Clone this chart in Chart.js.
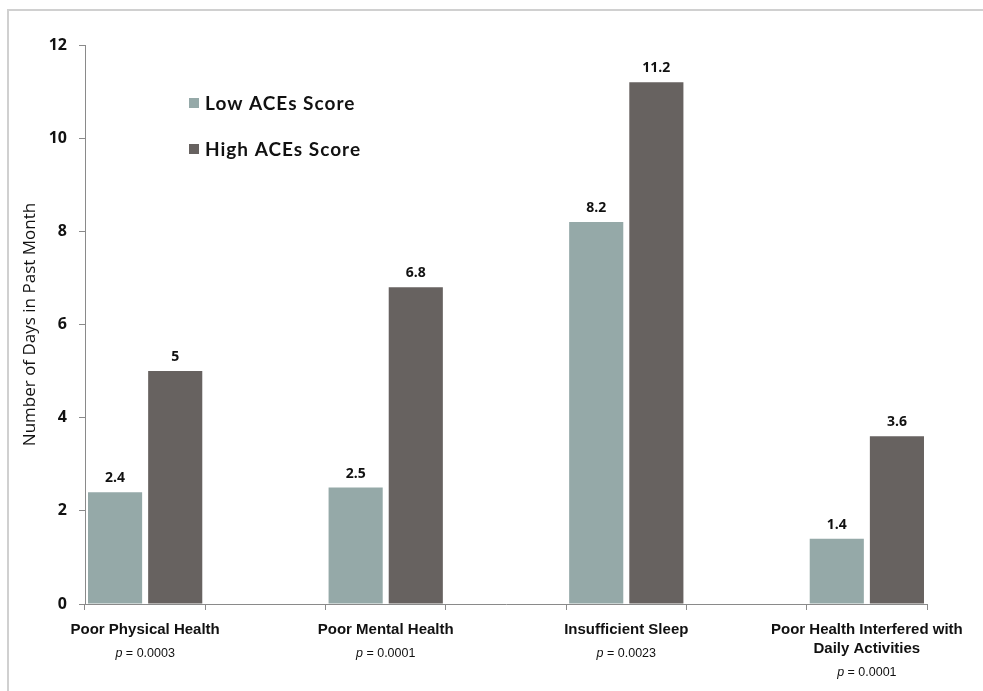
<!DOCTYPE html>
<html>
<head>
<meta charset="utf-8">
<script src="https://cdn.jsdelivr.net/npm/chart.js@4.4.1/dist/chart.umd.min.js"></script>
<style>
  html, body { margin: 0; padding: 0; background: #fff; overflow: hidden; }
  #wrap { position: relative; width: 983px; height: 691px; }
</style>
</head>
<body>
<div id="wrap"><canvas id="acesChart" width="983" height="691"></canvas></div>
<script>
const categories = [
  'Poor Physical Health',
  'Poor Mental Health',
  'Insufficient Sleep',
  ['Poor Health Interfered with', 'Daily Activities']
];
const pValues = ['0.0003', '0.0001', '0.0023', '0.0001'];
const lowAces = [2.4, 2.5, 8.2, 1.4];
const highAces = [5, 6.8, 11.2, 3.6];
const yMin = 0;
const yMax = 12;
const yStep = 2;

const lowColor = '#95a9a8';
const highColor = '#676260';
const axisColor = '#8a8a8a';

// empty spacer categories between the groups, like the original sheet
const labels = [];
const lowData = [];
const highData = [];
categories.forEach((c, i) => {
  if (i > 0) { labels.push(''); lowData.push(null); highData.push(null); }
  labels.push(c); lowData.push(lowAces[i]); highData.push(highAces[i]);
});

const LABEL_LINE = 19;

const frame = {
  id: 'frame',
  beforeDraw(chart) {
    const ctx = chart.ctx;
    ctx.save();
    ctx.strokeStyle = '#d0d0d0';
    ctx.lineWidth = 2;
    ctx.beginPath();
    ctx.moveTo(8, chart.height);
    ctx.lineTo(8, 10);
    ctx.lineTo(chart.width, 10);
    ctx.stroke();
    ctx.restore();
  }
};

const extras = {
  id: 'extras',
  afterDraw(chart) {
    const ctx = chart.ctx;
    const area = chart.chartArea;
    const x = chart.scales.x;
    ctx.save();

    // value labels above the bars
    ctx.font = 'bold 14px "Open Sans"';
    ctx.fillStyle = '#111';
    ctx.textAlign = 'center';
    ctx.textBaseline = 'middle';
    chart.data.datasets.forEach((ds, di) => {
      chart.getDatasetMeta(di).data.forEach((bar, i) => {
        const v = ds.data[i];
        if (v === null) return;
        ctx.fillText(String(v), bar.x, bar.y - 14);
      });
    });

    // y axis title
    ctx.save();
    ctx.translate(30, (area.top + area.bottom) / 2);
    ctx.rotate(-Math.PI / 2);
    ctx.font = '17px "Open Sans"';
    ctx.fillStyle = '#111';
    ctx.fillText('Number of Days in Past Month', 0, 0);
    ctx.restore();

    // p values under the category names
    ctx.textBaseline = 'middle';
    categories.forEach((c, i) => {
      const lines = Array.isArray(c) ? c.length : 1;
      const cx = x.getPixelForValue(i * 2);
      const cy = area.bottom + 26 + (lines - 1) * LABEL_LINE + 24;
      ctx.font = 'italic 12.5px "Liberation Sans"';
      const pw = ctx.measureText('p').width;
      ctx.font = '12.5px "Liberation Sans"';
      const rest = ' = ' + pValues[i];
      const rw = ctx.measureText(rest).width;
      const start = cx - (pw + rw) / 2;
      ctx.textAlign = 'left';
      ctx.font = 'italic 12.5px "Liberation Sans"';
      ctx.fillText('p', start, cy);
      ctx.font = '12.5px "Liberation Sans"';
      ctx.fillText(rest, start + pw, cy);
    });

    // legend inside the plot
    ctx.font = 'bold 19px Lato';
    ctx.letterSpacing = '1px';
    ctx.textAlign = 'left';
    chart.data.datasets.forEach((ds, di) => {
      const ly = 103 + di * 46;
      ctx.fillStyle = ds.backgroundColor;
      ctx.fillRect(189, ly - 5, 10, 10);
      ctx.fillStyle = '#111';
      ctx.fillText(ds.label, 205, ly + 1);
    });

    ctx.restore();
  }
};

new Chart(document.getElementById('acesChart'), {
  type: 'bar',
  data: {
    labels: labels,
    datasets: [
      { label: 'Low ACEs Score', data: lowData, backgroundColor: lowColor },
      { label: 'High ACEs Score', data: highData, backgroundColor: highColor }
    ]
  },
  options: {
    responsive: false,
    animation: false,
    events: [],
    layout: { padding: { left: 0, right: 56, top: 45, bottom: 0 } },
    datasets: { bar: { categoryPercentage: 1.0, barPercentage: 0.9 } },
    plugins: { legend: { display: false }, tooltip: { enabled: false } },
    scales: {
      x: {
        afterFit(scale) { scale.height = 87; },
        grid: { display: true, drawOnChartArea: false, offset: true, color: axisColor, tickLength: 6 },
        border: { color: axisColor, width: 1 },
        ticks: {
          autoSkip: false,
          maxRotation: 0,
          minRotation: 0,
          padding: 10,
          color: '#111',
          font: { family: '"Liberation Sans"', size: 15, weight: 'bold', lineHeight: LABEL_LINE / 15 }
        }
      },
      y: {
        min: yMin,
        max: yMax,
        afterFit(scale) { scale.width = 85; },
        grid: { display: true, drawOnChartArea: false, color: axisColor, tickLength: 6 },
        border: { color: axisColor, width: 1 },
        ticks: {
          stepSize: yStep,
          padding: 12,
          color: '#111',
          font: { family: '"Open Sans"', size: 16, weight: 'bold' }
        }
      }
    }
  },
  plugins: [frame, extras]
});
</script>
</body>
</html>
